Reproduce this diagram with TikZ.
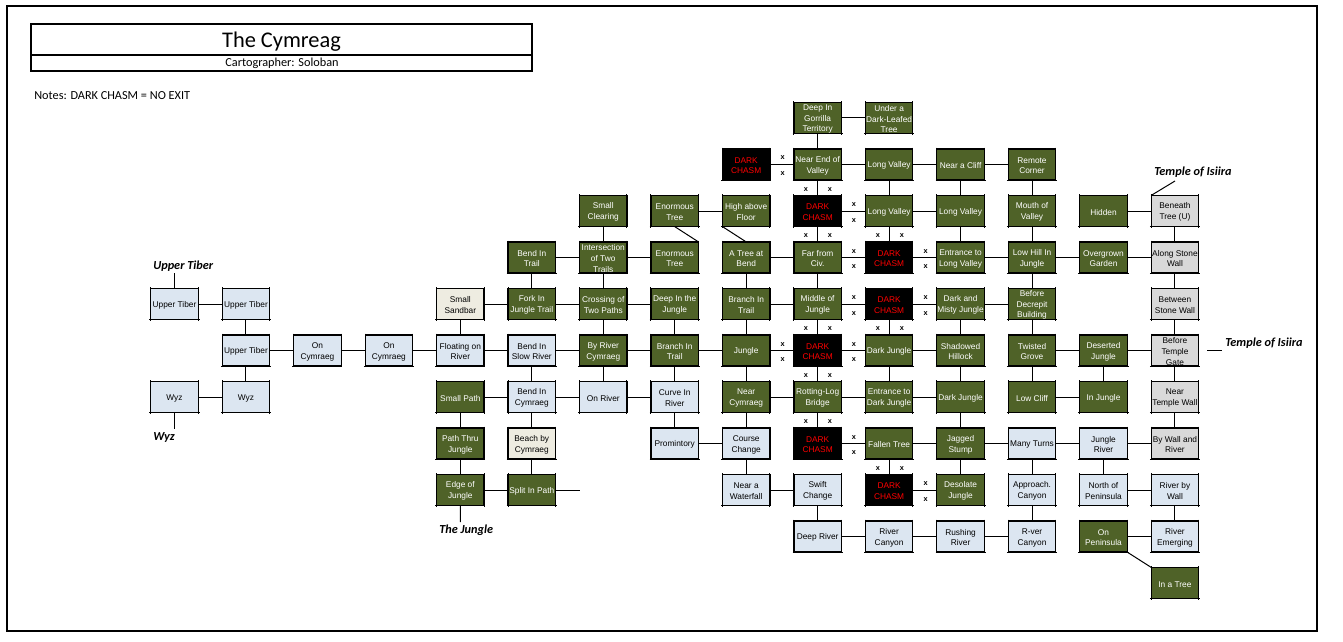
\documentclass[tikz,border=0pt]{standalone}
\usepackage{fontspec}
\setmainfont{Liberation Sans}
\newfontfamily\calfont{Carlito}
\definecolor{grn}{HTML}{4F6228}
\definecolor{blu}{HTML}{DCE6F1}
\definecolor{bge}{HTML}{EEECE1}
\definecolor{gry}{HTML}{D9D9D9}
\tikzset{
  cellbase/.style={draw=black,line width=0.95pt,minimum width=35.6pt,minimum height=23.4pt,inner sep=0pt,outer sep=0pt,align=center,font=\fontsize{6.25}{8}\selectfont},
  G/.style={cellbase,fill=grn,text=white},
  B/.style={cellbase,fill=blu,text=black},
  E/.style={cellbase,fill=bge,text=black},
  Y/.style={cellbase,fill=gry,text=black},
  D/.style={cellbase,fill=black,text=red},
  link/.style={line width=0.75pt,black},
  tick/.style={line width=0.75pt,black},
  xmark/.style={inner sep=0pt,font=\fontsize{5.5}{6}\selectfont\bfseries},
  lab/.style={inner sep=0pt,anchor=west,font=\calfont\fontsize{9.2}{10}\selectfont\bfseries\itshape},
  frame/.style={draw=black,line width=1.6pt}
}
\newcommand\cell[4]{%
  \node[#1] (c#2-#3) at ({174.5+71.46*#2},{118+46.5*#3}) {\rule{0pt}{6.2pt}#4};
  \draw[tick] ([xshift=-1pt]c#2-#3.south west)--([xshift=1pt]c#2-#3.south east);
  \draw[tick] ([yshift=1pt]c#2-#3.north west)--([yshift=-1pt]c#2-#3.south west);
  \draw[tick] ([yshift=1pt]c#2-#3.north east)--([yshift=-1pt]c#2-#3.south east);
}
\begin{document}
\begin{tikzpicture}[x=0.75pt,y=-0.75pt]
\useasboundingbox (0,0) rectangle (1343,642);
\draw[frame] (7,6) rectangle (1317,631);
\draw[frame] (31,24) rectangle (532,71);
\draw[frame] (31,55) -- (532,55);
\node[inner sep=0pt,font=\calfont\fontsize{16.8}{18}\selectfont] (title) at (281.5,42) {The Cymreag};
\node[inner sep=0pt,font=\calfont\fontsize{9.2}{10}\selectfont] (carto) at (282,63) {Cartographer: Soloban};
\node[inner sep=0pt,anchor=west,font=\calfont\fontsize{9.2}{10}\selectfont] (notes) at (34,96) {Notes: DARK CHASM = NO EXIT};
% row 0
\cell{G}{9}{0}{Deep In\\Gorrilla\\Territory}
\cell{G}{10}{0}{Under a\\Dark-Leafed\\Tree}
% row 1
\cell{D}{8}{1}{DARK\\CHASM}
\cell{G}{9}{1}{Near End of\\Valley}
\cell{G}{10}{1}{Long Valley}
\cell{G}{11}{1}{Near a Cliff}
\cell{G}{12}{1}{Remote\\Corner}
% row 2
\cell{G}{6}{2}{Small\\Clearing}
\cell{G}{7}{2}{Enormous\\Tree}
\cell{G}{8}{2}{High above\\Floor}
\cell{D}{9}{2}{DARK\\CHASM}
\cell{G}{10}{2}{Long Valley}
\cell{G}{11}{2}{Long Valley}
\cell{G}{12}{2}{Mouth of\\Valley}
\cell{G}{13}{2}{Hidden}
\cell{Y}{14}{2}{Beneath\\Tree (U)}
% row 3
\cell{G}{5}{3}{Bend In\\Trail}
\cell{G}{6}{3}{Intersection\\of Two\\Trails}
\cell{G}{7}{3}{Enormous\\Tree}
\cell{G}{8}{3}{A Tree at\\Bend}
\cell{G}{9}{3}{Far from\\Civ.}
\cell{D}{10}{3}{DARK\\CHASM}
\cell{G}{11}{3}{Entrance to\\Long Valley}
\cell{G}{12}{3}{Low Hill In\\Jungle}
\cell{G}{13}{3}{Overgrown\\Garden}
\cell{Y}{14}{3}{Along Stone\\Wall}
% row 4
\cell{B}{0}{4}{Upper Tiber}
\cell{B}{1}{4}{Upper Tiber}
\cell{E}{4}{4}{Small\\Sandbar}
\cell{G}{5}{4}{Fork In\\Jungle Trail}
\cell{G}{6}{4}{Crossing of\\Two Paths}
\cell{G}{7}{4}{Deep In the\\Jungle}
\cell{G}{8}{4}{Branch In\\Trail}
\cell{G}{9}{4}{Middle of\\Jungle}
\cell{D}{10}{4}{DARK\\CHASM}
\cell{G}{11}{4}{Dark and\\Misty Jungle}
\cell{G}{12}{4}{Before\\Decrepit\\Building}
\cell{Y}{14}{4}{Between\\Stone Wall}
% row 5
\cell{B}{1}{5}{Upper Tiber}
\cell{B}{2}{5}{On\\Cymraeg}
\cell{B}{3}{5}{On\\Cymraeg}
\cell{B}{4}{5}{Floating on\\River}
\cell{B}{5}{5}{Bend In\\Slow River}
\cell{G}{6}{5}{By River\\Cymraeg}
\cell{G}{7}{5}{Branch In\\Trail}
\cell{G}{8}{5}{Jungle}
\cell{D}{9}{5}{DARK\\CHASM}
\cell{G}{10}{5}{Dark Jungle}
\cell{G}{11}{5}{Shadowed\\Hillock}
\cell{G}{12}{5}{Twisted\\Grove}
\cell{G}{13}{5}{Deserted\\Jungle}
\cell{Y}{14}{5}{Before\\Temple\\Gate}
% row 6
\cell{B}{0}{6}{Wyz}
\cell{B}{1}{6}{Wyz}
\cell{G}{4}{6}{Small Path}
\cell{B}{5}{6}{Bend In\\Cymraeg}
\cell{B}{6}{6}{On River}
\cell{B}{7}{6}{Curve In\\River}
\cell{G}{8}{6}{Near\\Cymraeg}
\cell{G}{9}{6}{Rotting-Log\\Bridge}
\cell{G}{10}{6}{Entrance to\\Dark Jungle}
\cell{G}{11}{6}{Dark Jungle}
\cell{G}{12}{6}{Low Cliff}
\cell{G}{13}{6}{In Jungle}
\cell{Y}{14}{6}{Near\\Temple Wall}
% row 7
\cell{G}{4}{7}{Path Thru\\Jungle}
\cell{E}{5}{7}{Beach by\\Cymraeg}
\cell{B}{7}{7}{Promintory}
\cell{B}{8}{7}{Course\\Change}
\cell{D}{9}{7}{DARK\\CHASM}
\cell{G}{10}{7}{Fallen Tree}
\cell{G}{11}{7}{Jagged\\Stump}
\cell{B}{12}{7}{Many Turns}
\cell{B}{13}{7}{Jungle\\River}
\cell{Y}{14}{7}{By Wall and\\River}
% row 8
\cell{G}{4}{8}{Edge of\\Jungle}
\cell{G}{5}{8}{Split In Path}
\cell{B}{8}{8}{Near a\\Waterfall}
\cell{B}{9}{8}{Swift\\Change}
\cell{D}{10}{8}{DARK\\CHASM}
\cell{G}{11}{8}{Desolate\\Jungle}
\cell{B}{12}{8}{Approach.\\Canyon}
\cell{B}{13}{8}{North of\\Peninsula}
\cell{B}{14}{8}{River by\\Wall}
% row 9
\cell{B}{9}{9}{Deep River}
\cell{B}{10}{9}{River\\Canyon}
\cell{B}{11}{9}{Rushing\\River}
\cell{B}{12}{9}{R-ver\\Canyon}
\cell{G}{13}{9}{On\\Peninsula}
\cell{B}{14}{9}{River\\Emerging}
% row 10
\cell{G}{14}{10}{In a Tree}
% labels
\node[lab] (lupper) at (153,266) {Upper Tiber};
\node[lab] (lwyz) at (153,437) {Wyz};
\node[lab] (ljungle) at (439,530) {The Jungle};
\node[lab] (ltemplea) at (1154,172.5) {Temple of Isiira};
\node[lab] (ltempleb) at (1225,343.5) {Temple of Isiira};
\coordinate (supper) at (174.5,273);
\coordinate (swyz) at (174.5,429);
\coordinate (sjungle) at (460.3,522);
\coordinate (stemplea) at (1175,181);
\coordinate (stba) at (1207,350);
\coordinate (stbb) at (1222,350);
\coordinate (ssplit) at (580,490);
% horizontal connectors: row/from/to
\foreach \r/\a/\b in {0/9/10,1/8/9,1/9/10,1/10/11,1/11/12,2/7/8,2/9/10,2/10/11,2/13/14,
 3/5/6,3/6/7,3/8/9,3/9/10,3/10/11,3/11/12,3/12/13,3/13/14,
 4/0/1,4/4/5,4/5/6,4/6/7,4/8/9,4/9/10,4/10/11,4/11/12,
 5/1/2,5/2/3,5/3/4,5/4/5,5/5/6,5/6/7,5/7/8,5/8/9,5/9/10,5/10/11,5/12/13,5/13/14,
 6/0/1,6/4/5,6/5/6,6/6/7,6/8/9,6/9/10,6/10/11,6/12/13,
 7/7/8,7/9/10,7/10/11,7/11/12,7/12/13,7/13/14,
 8/4/5,8/8/9,8/10/11,8/13/14,
 9/9/10,9/10/11,9/11/12,9/13/14}
 {\draw[link] (c\a-\r.east) -- (c\b-\r.west);}
% vertical connectors: column/from/to
\foreach \c/\a/\b in {1/4/5,1/5/6,4/4/5,4/6/7,4/7/8,5/3/4,5/5/6,5/6/7,5/7/8,
 6/2/3,6/3/4,6/4/5,6/5/6,7/4/5,7/5/6,7/6/7,
 8/3/4,8/4/5,8/5/6,8/6/7,8/7/8,
 9/0/1,9/1/2,9/2/3,9/3/4,9/4/5,9/5/6,9/6/7,9/8/9,
 10/1/2,10/2/3,10/4/5,10/5/6,10/7/8,
 11/1/2,11/2/3,11/4/5,11/5/6,11/6/7,11/7/8,
 12/1/2,12/2/3,12/3/4,12/4/5,12/5/6,12/7/8,12/8/9,
 13/5/6,13/7/8,
 14/2/3,14/3/4,14/4/5,14/5/6,14/6/7,14/8/9}
 {\draw[link] (c\c-\a.south) -- (c\c-\b.north);}
% free-ended and diagonal connectors
\draw[link] (c0-4.north) -- (supper);
\draw[link] (c0-6.south) -- (swyz);
\draw[link] (c4-8.south) -- (sjungle);
\draw[link] (c5-8.east) -- (ssplit);
\draw[link] (stba) -- (stbb);
\draw[link] (stemplea) -- (c14-2.north west);
\draw[link] (c7-2.south) -- (c7-3.north east);
\draw[link] (c8-2.south west) -- (c8-3.north);
\draw[link] (c13-9.south east) -- (c14-10.north west);
% x marks
\foreach \n/\px/\py in {
 a1/782.7/158,a2/782.7/174,
 b1/806/190,b2/830/190,b3/854/205,b4/854/221,b5/806/236,b6/830/236,
 c1/878/236,c2/902/236,c3/854/252,c4/854/267,c5/925.7/252,c6/925.7/267,
 d1/854/298,d2/854/314,d3/925.7/298,d4/925.7/314,d5/878/329,d6/902/329,
 e1/806/329,e2/830/329,e3/782.7/345,e4/782.7/360,e5/854/345,e6/854/360,e7/806/376,e8/830/376,
 f1/806/422,f2/830/422,f3/854/438,f4/854/453,
 g1/878/469,g2/902/469,g3/925.7/484,g4/925.7/500}
 {\node[xmark] (x\n) at (\px,\py) {x};}
\end{tikzpicture}
\end{document}
